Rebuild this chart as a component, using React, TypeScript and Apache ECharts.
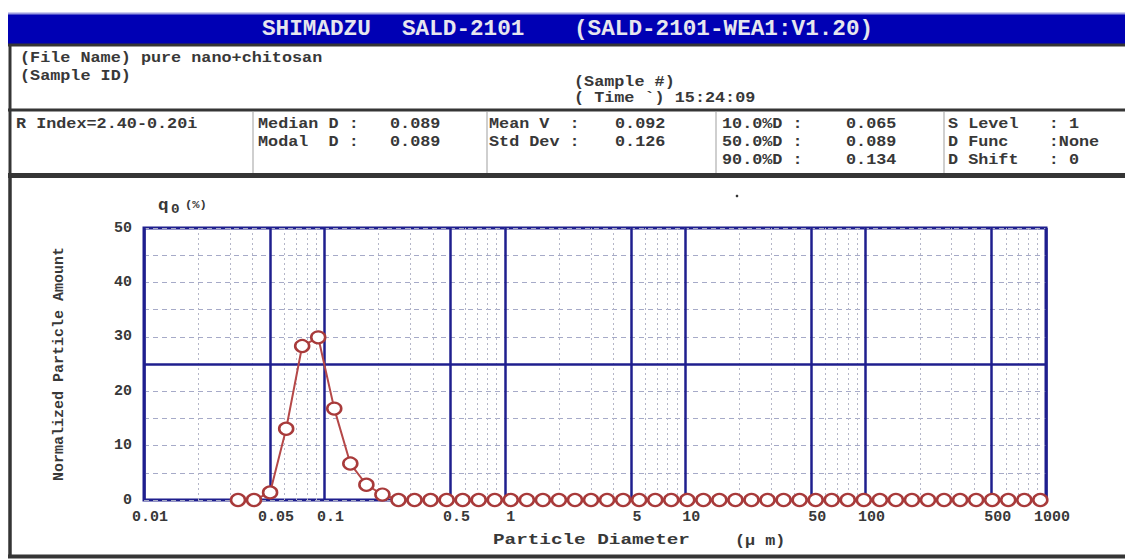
import React, { useEffect, useRef } from "react";
import * as echarts from "echarts";

// ---------- data ----------
const diameters = [
  0.0332, 0.0407, 0.05, 0.0614, 0.0753, 0.0924, 0.1134, 0.1392, 0.1709, 0.2097,
  0.2574, 0.3159, 0.3877, 0.4759, 0.584, 0.7166, 0.8797, 1.079, 1.325, 1.626,
  1.995, 2.449, 3.006, 3.689, 4.529, 5.557, 6.821, 8.37, 10.27, 12.61,
  15.47, 18.99, 23.31, 28.6, 35.11, 43.08, 52.88, 64.9, 79.64, 97.75,
  119.97, 147.2, 180.7, 221.8, 272.2, 334.1, 410.0, 503.2, 617.6, 757.9, 930.2,
];
const q0Values = [
  0, 0, 1.4, 13.1, 28.3, 29.9, 16.8, 6.7, 2.8, 1.0,
  0, 0, 0, 0, 0, 0, 0, 0, 0, 0,
  0, 0, 0, 0, 0, 0, 0, 0, 0, 0,
  0, 0, 0, 0, 0, 0, 0, 0, 0, 0,
  0, 0, 0, 0, 0, 0, 0, 0, 0, 0, 0,
];
const halfTicks = [0.05, 0.5, 5, 50, 500];
const decadeStarts = [0.01, 0.1, 1, 10, 100];
const minorMultipliers = [2, 3, 4, 6, 7, 8, 9];
const yLabelStep = 10;
const yMajorLine = 25;

const titleParts = ["SHIMADZU", "SALD-2101", "(SALD-2101-WEA1:V1.20)"];
const fileName = "pure nano+chitosan";
const sampleTime = "15:24:09";
const statItems: [string, number, number][] = [
  ["R Index=2.40-0.20i", 16, 124],
  ["Median D :", 258, 124],
  ["0.089", 390, 124],
  ["Modal  D :", 258, 142],
  ["0.089", 390, 142],
  ["Mean V  :", 489, 124],
  ["0.092", 615, 124],
  ["Std Dev :", 489, 142],
  ["0.126", 615, 142],
  ["10.0%D :", 722, 124],
  ["0.065", 846, 124],
  ["50.0%D :", 722, 142],
  ["0.089", 846, 142],
  ["90.0%D :", 722, 160],
  ["0.134", 846, 160],
  ["S Level   : 1", 948, 124],
  ["D Func    :None", 948, 142],
  ["D Shift   : 0", 948, 160],
];

const FONT = '"Liberation Mono", "DejaVu Sans Mono", monospace';
const NAVY = "#1f1f8e";
const RED = "#a83a3a";
const TXT = "#383838";
const BORDER = "#353535";

function txt(text: string, x: number, y: number, o: any = {}) {
  const size = o.size ?? 14;
  const align = o.align ?? "left";
  return {
    type: "text",
    x,
    y,
    scaleX: o.sx ?? 1.2,
    rotation: o.rot ?? 0,
    z: 10,
    silent: true,
    style: {
      text,
      font: `bold ${size}px ${FONT}`,
      fill: o.color ?? TXT,
      textAlign: align,
      align,
      textVerticalAlign: "middle",
      verticalAlign: "middle",
    },
  };
}
function hline(x1: number, x2: number, y: number, w: number, c: string) {
  return { type: "line", silent: true, z: 9, shape: { x1, y1: y, x2, y2: y }, style: { stroke: c, lineWidth: w } };
}
function vline(x: number, y1: number, y2: number, w: number, c: string) {
  return { type: "line", silent: true, z: 9, shape: { x1: x, y1, x2: x, y2 }, style: { stroke: c, lineWidth: w } };
}

export default function App() {
  const ref = useRef<HTMLDivElement>(null);
  useEffect(() => {
    if (!ref.current) return;
    const chart = echarts.init(ref.current, undefined, { renderer: "svg" });

    const labelStyle = {
      fontFamily: FONT,
      fontWeight: "bold",
      fontSize: 15,
      color: TXT,
    };

    const gridLines: any[] = [];
    decadeStarts.forEach((d) =>
      minorMultipliers.forEach((m) =>
        gridLines.push({
          xAxis: +(d * m).toPrecision(3),
          lineStyle: { color: "#b4b6c8", width: 1, type: [2, 3] },
          label: { show: false },
        })
      )
    );
    halfTicks.forEach((v) =>
      gridLines.push({
        xAxis: v,
        lineStyle: { color: NAVY, width: 2.5, type: "solid" },
        label: {
          show: true,
          position: "start",
          distance: 10,
          formatter: String(v),
          padding: [0, 0, 0, 12],
          ...labelStyle,
        },
      })
    );
    gridLines.push({
      yAxis: yMajorLine,
      lineStyle: { color: NAVY, width: 2.5, type: "solid" },
      label: { show: false },
    });

    const graphics: any[] = [
      // title bar
      { type: "rect", silent: true, z: 8, shape: { x: 8, y: 13, width: 1117, height: 31 }, style: { fill: "#0000b4" } },
      hline(8, 1125, 13.5, 2, "#9c9ce0"),
      hline(8, 1125, 45, 3, BORDER),
      txt(titleParts[0], 262, 29, { size: 22, sx: 1.03, color: "#e6e6ee" }),
      txt(titleParts[1], 402, 29, { size: 22, sx: 1.03, color: "#e6e6ee" }),
      txt(titleParts[2], 574, 29, { size: 22, sx: 1.03, color: "#e6e6ee" }),
      // box 1
      vline(10, 45, 110, 3, BORDER),
      txt("(File Name) " + fileName, 20, 58),
      txt("(Sample ID)", 20, 76),
      txt("(Sample #)", 574, 82),
      txt("( Time `) " + sampleTime, 574, 98),
      // box 2
      hline(8, 1125, 110, 3, BORDER),
      hline(8, 1125, 175.5, 5, BORDER),
      vline(10, 110, 176, 3, BORDER),
      vline(253, 112, 173, 2, "#cfcfcf"),
      vline(487, 112, 173, 2, "#cfcfcf"),
      vline(716, 112, 173, 2, "#cfcfcf"),
      vline(944, 112, 173, 2, "#cfcfcf"),
      ...statItems.map(([t, x, y]) => txt(t, x, y)),
      // chart box
      vline(10, 176, 557, 3.5, BORDER),
      hline(8, 1125, 556.5, 4, BORDER),
      // q0(%) label
      txt("q", 158, 206, { size: 16, sx: 1.1 }),
      txt("0", 171, 210, { size: 13, sx: 1.1 }),
      txt("(%)", 185, 205, { size: 11, sx: 1.1 }),
      // x-axis title
      txt("Particle Diameter", 493, 540, { size: 14, sx: 1.38 }),
      txt("(μ m)", 735, 541, { size: 14, sx: 1.2 }),
      // stray dot
      { type: "circle", silent: true, z: 9, shape: { cx: 737, cy: 196, r: 1.3 }, style: { fill: "#333" } },
    ];

    chart.setOption({
      animation: false,
      backgroundColor: "#ffffff",
      textStyle: { fontFamily: FONT },
      grid: {
        left: 144,
        right: 79,
        top: 228,
        bottom: 59,
        show: true,
        borderColor: NAVY,
        borderWidth: 3,
        backgroundColor: "transparent",
      },
      xAxis: {
        type: "log",
        logBase: 10,
        min: 0.01,
        max: 1000,
        axisLine: { show: false },
        axisTick: { show: false },
        splitLine: { show: true, lineStyle: { color: NAVY, width: 2.5 } },
        axisLabel: {
          margin: 10,
          padding: [0, 0, 0, 12],
          formatter: (v: number) => String(+v.toPrecision(6)),
          ...labelStyle,
        },
      },
      yAxis: {
        type: "value",
        min: 0,
        max: 50,
        interval: 5,
        name: "Normalized Particle Amount",
        nameLocation: "middle",
        nameRotate: 90,
        nameGap: 77,
        nameTextStyle: { fontFamily: FONT, fontWeight: "bold", fontSize: 15, color: TXT },
        axisLine: { show: false },
        axisTick: { show: false },
        splitLine: { show: true, lineStyle: { color: "#a6aac8", width: 1, type: [5, 4] } },
        axisLabel: {
          margin: 12,
          formatter: (v: number) => (v % yLabelStep === 0 ? String(v) : ""),
          ...labelStyle,
        },
      },
      graphic: graphics,
      series: [
        {
          name: "grid",
          type: "line",
          data: [],
          silent: true,
          z: 1,
          markLine: {
            silent: true,
            symbol: ["none", "none"],
            animation: false,
            data: gridLines,
          },
        },
        {
          name: "q0",
          type: "line",
          z: 5,
          data: diameters.map((d, i) => [d, q0Values[i]]),
          showAllSymbol: true,
          symbol: "circle",
          symbolSize: [14, 12],
          lineStyle: { color: "#b54848", width: 2 },
          itemStyle: { color: "#ffffff", borderColor: RED, borderWidth: 2.4 },
        },
      ],
    });
    return () => chart.dispose();
  }, []);

  return (
    <div
      ref={ref}
      style={{ position: "absolute", left: 0, top: 0, width: 1125, height: 559 }}
    />
  );
}
